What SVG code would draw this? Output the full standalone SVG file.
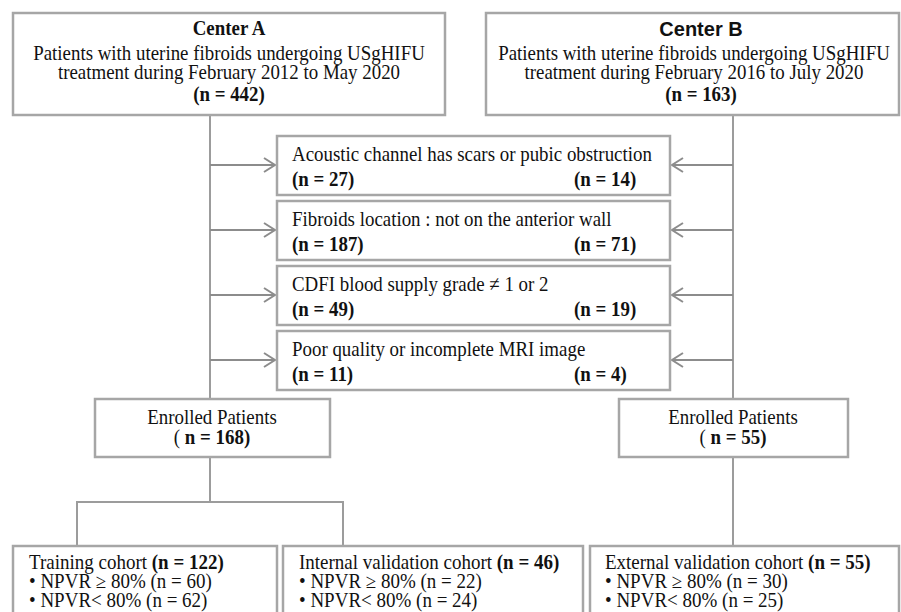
<svg xmlns="http://www.w3.org/2000/svg" width="901" height="612" viewBox="0 0 901 612">
<defs>
<style>
.box{fill:#fff;stroke:#a6a6a6;stroke-width:2.5}
.ln{fill:none;stroke:#9c9c9c;stroke-width:2}
.ar{fill:none;stroke:#8c8c8c;stroke-width:2}
text{font-family:"Liberation Serif","Times New Roman",serif;font-size:21px;fill:#111}
.bt{font-size:20px}
.b{font-weight:bold}
.c{text-anchor:middle}
.sans{font-family:"Liberation Sans",Arial,sans-serif;font-size:20px;font-weight:bold}
</style>
<marker id="chev" markerUnits="userSpaceOnUse" markerWidth="16" markerHeight="18" refX="12" refY="8" orient="auto">
<path d="M1,1 L12,8 L1,15" fill="none" stroke="#8c8c8c" stroke-width="2"/>
</marker>
</defs>

<g id="connectors">
<line class="ln" x1="210" y1="115" x2="210" y2="399"/>
<line class="ln" x1="733" y1="115" x2="733" y2="399"/>
<line class="ar" x1="210" y1="165" x2="275" y2="165" marker-end="url(#chev)"/>
<line class="ar" x1="210" y1="230" x2="275" y2="230" marker-end="url(#chev)"/>
<line class="ar" x1="210" y1="295" x2="275" y2="295" marker-end="url(#chev)"/>
<line class="ar" x1="210" y1="360" x2="275" y2="360" marker-end="url(#chev)"/>
<line class="ar" x1="733" y1="165" x2="672" y2="165" marker-end="url(#chev)"/>
<line class="ar" x1="733" y1="230" x2="672" y2="230" marker-end="url(#chev)"/>
<line class="ar" x1="733" y1="295" x2="672" y2="295" marker-end="url(#chev)"/>
<line class="ar" x1="733" y1="360" x2="672" y2="360" marker-end="url(#chev)"/>
<line class="ln" x1="210" y1="457" x2="210" y2="502"/>
<polyline class="ln" points="77,546 77,502 343,502 343,546"/>
<line class="ln" x1="733" y1="457" x2="733" y2="546"/>
</g>

<g id="centerA">
<rect class="box" x="13" y="13" width="432" height="102"/>
<g transform="scale(0.9,1)">
<text class="c b" x="254.44" y="35.5">Center A</text>
<text class="c" x="254.44" y="60">Patients with uterine fibroids undergoing USgHIFU</text>
<text class="c" x="254.44" y="79.5">treatment during February 2012 to May 2020</text>
<text class="c b" x="254.44" y="101.5">(n = 442)</text>
</g>
</g>

<g id="centerB">
<rect class="box" x="486" y="13" width="413" height="102"/>
<text class="c sans" x="701" y="35.5">Center B</text>
<g transform="scale(0.9,1)">
<text class="c" x="771.11" y="60">Patients with uterine fibroids undergoing USgHIFU</text>
<text class="c" x="771.11" y="79.5">treatment during February 2016 to July 2020</text>
<text class="c b" x="778.89" y="101.5">(n = 163)</text>
</g>
</g>

<g id="excl1">
<rect class="box" x="277" y="136" width="393" height="59"/>
<g transform="scale(0.9,1)">
<text x="324.44" y="161">Acoustic channel has scars or pubic obstruction</text>
<text class="b" x="324.44" y="186">(n = 27)</text>
<text class="b" x="637.78" y="186">(n = 14)</text>
</g>
</g>

<g id="excl2">
<rect class="box" x="277" y="201" width="393" height="59"/>
<g transform="scale(0.9,1)">
<text x="324.44" y="226">Fibroids location : not on the anterior wall</text>
<text class="b" x="324.44" y="251">(n = 187)</text>
<text class="b" x="637.78" y="251">(n = 71)</text>
</g>
</g>

<g id="excl3">
<rect class="box" x="277" y="266" width="393" height="59"/>
<g transform="scale(0.9,1)">
<text x="324.44" y="291">CDFI blood supply grade ≠ 1 or 2</text>
<text class="b" x="324.44" y="316">(n = 49)</text>
<text class="b" x="637.78" y="316">(n = 19)</text>
</g>
</g>

<g id="excl4">
<rect class="box" x="277" y="331" width="393" height="59"/>
<g transform="scale(0.9,1)">
<text x="324.44" y="356">Poor quality or incomplete MRI image</text>
<text class="b" x="324.44" y="381">(n = 11)</text>
<text class="b" x="637.78" y="381">(n = 4)</text>
</g>
</g>

<g id="enrolledA">
<rect class="box" x="95" y="399" width="235" height="58"/>
<g transform="scale(0.9,1)">
<text class="c" x="235.56" y="424">Enrolled Patients</text>
<text class="c" x="235.56" y="444">( <tspan class="b">n = 168)</tspan></text>
</g>
</g>

<g id="enrolledB">
<rect class="box" x="619" y="399" width="229" height="58"/>
<g transform="scale(0.9,1)">
<text class="c" x="814.44" y="424">Enrolled Patients</text>
<text class="c" x="814.44" y="444">( <tspan class="b">n = 55)</tspan></text>
</g>
</g>

<g id="training">
<rect class="box" x="13" y="546" width="264" height="80"/>
<g transform="scale(0.95,1)">
<text class="bt" x="30.53" y="569">Training cohort <tspan class="b">(n = 122)</tspan></text>
<text class="bt" x="30.53" y="588">• NPVR ≥ 80% (n = 60)</text>
<text class="bt" x="30.53" y="607">• NPVR&lt; 80% (n = 62)</text>
</g>
</g>

<g id="internal">
<rect class="box" x="283" y="546" width="300" height="80"/>
<g transform="scale(0.95,1)">
<text class="bt" x="314.74" y="569">Internal validation cohort <tspan class="b">(n = 46)</tspan></text>
<text class="bt" x="314.74" y="588">• NPVR ≥ 80% (n = 22)</text>
<text class="bt" x="314.74" y="607">• NPVR&lt; 80% (n = 24)</text>
</g>
</g>

<g id="external">
<rect class="box" x="590" y="546" width="309" height="80"/>
<g transform="scale(0.95,1)">
<text class="bt" x="636.84" y="569">External validation cohort <tspan class="b">(n = 55)</tspan></text>
<text class="bt" x="636.84" y="588">• NPVR ≥ 80% (n = 30)</text>
<text class="bt" x="636.84" y="607">• NPVR&lt; 80% (n = 25)</text>
</g>
</g>
</svg>
